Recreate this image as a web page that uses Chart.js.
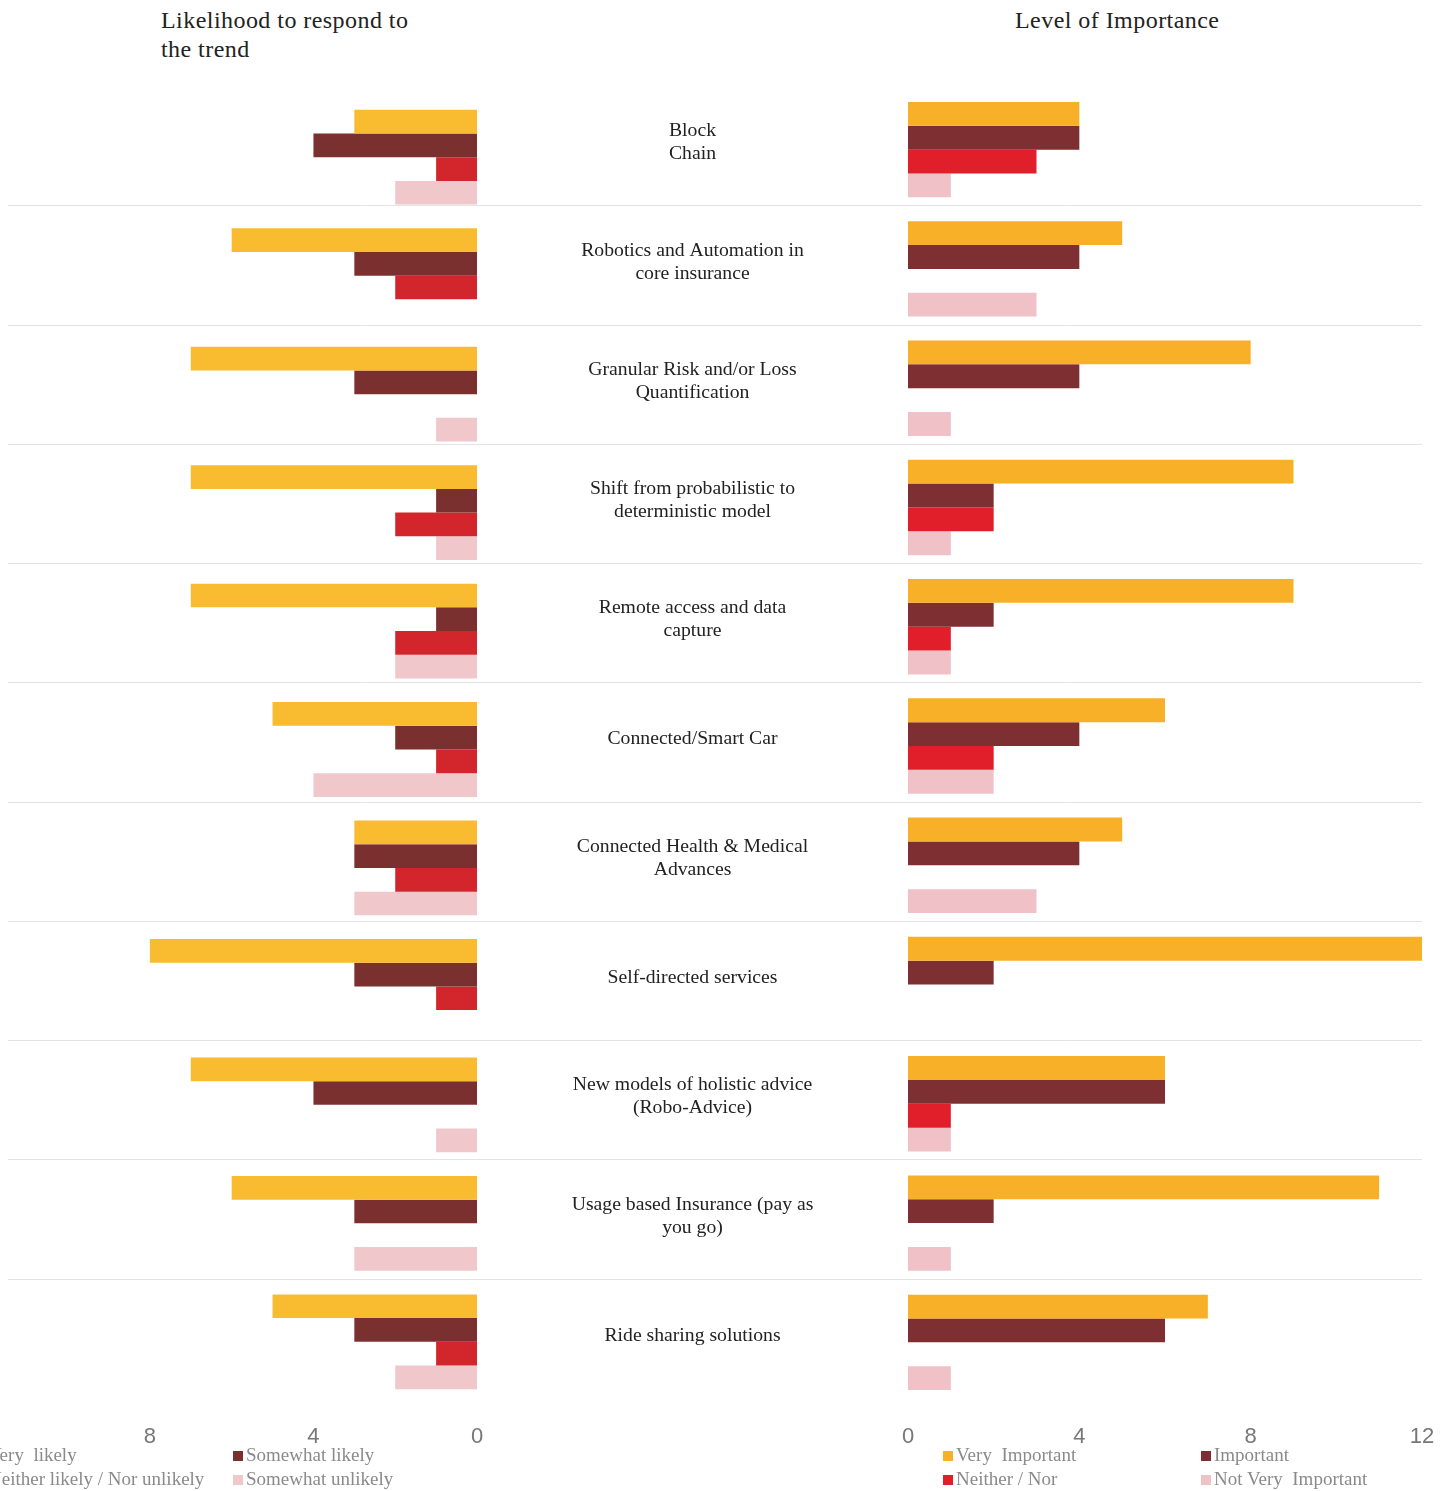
<!DOCTYPE html>
<html lang="en">
<head>
<meta charset="UTF-8">
<title>Trends: likelihood to respond and level of importance</title>
<script src="https://cdn.jsdelivr.net/npm/chart.js"></script>
<style>
  body { margin: 0; width: 1451px; height: 1491px; position: relative; overflow: hidden; background: #fff; font-family: "Liberation Serif", serif; }
  .titulo { position: absolute; font-size: 24px; letter-spacing: 0.45px; color: #222; line-height: 29px; }
  #wrapRight { position: absolute; left: 0; top: 0; width: 1451px; height: 1452px; }
  #wrapLeft { position: absolute; left: 0; top: 0; width: 490px; height: 1450px; }
  .legenda { position: absolute; font-size: 19px; color: #8a8a8a; white-space: pre; line-height: 24px; }
  .legenda i { display: inline-block; width: 10px; height: 10px; margin-right: 3px; }
</style>
</head>
<body>
  <div class="titulo" style="left:161px; top:6px;">Likelihood to respond to<br>the trend</div>
  <div class="titulo" style="left:1015px; top:6px;">Level of Importance</div>

  <div id="wrapRight"><canvas id="importanceChart"></canvas></div>
  <div id="wrapLeft"><canvas id="likelihoodChart"></canvas></div>

  <div id="legendLeft"></div>
  <div id="legendRight"></div>

<script>
  // categorias (linhas de texto de cada rótulo)
  const categorias = [
    ['Block', 'Chain'],
    ['Robotics and Automation in', 'core insurance'],
    ['Granular Risk and/or Loss', 'Quantification'],
    ['Shift from probabilistic to', 'deterministic model'],
    ['Remote access and data', 'capture'],
    ['Connected/Smart Car'],
    ['Connected Health & Medical', 'Advances'],
    ['Self-directed services'],
    ['New models of holistic advice', '(Robo-Advice)'],
    ['Usage based Insurance (pay as', 'you go)'],
    ['Ride sharing solutions']
  ];

  // Likelihood to respond to the trend
  const veryLikely       = [3, 6, 7, 7, 7, 5, 3, 8, 7, 6, 5];
  const somewhatLikely   = [4, 3, 3, 1, 1, 2, 3, 3, 4, 3, 3];
  const neitherLikely    = [1, 2, 0, 2, 2, 1, 2, 1, 0, 0, 1];
  const somewhatUnlikely = [2, 0, 1, 1, 2, 4, 3, 0, 1, 3, 2];

  // Level of importance
  const veryImportant    = [4, 5, 8, 9, 9, 6, 5, 12, 6, 11, 7];
  const important        = [4, 4, 4, 2, 2, 4, 4, 2, 6, 2, 6];
  const neitherNor       = [3, 0, 0, 2, 1, 2, 0, 0, 1, 0, 0];
  const notVeryImportant = [1, 3, 1, 1, 1, 2, 3, 0, 1, 1, 1];

  const ticksLeft = [0, 4, 8];
  const ticksRight = [0, 4, 8, 12];

  const coresLeft = ['#F9BB30', '#7B3030', '#D3262C', '#F0C8CB'];
  const coresRight = ['#F7B027', '#7D2F32', '#E11F2A', '#F0C2C8'];

  const labelsIdx = categorias.map(c => c.join(' '));
  const linhaCor = '#e3e3e3';
  const larguraMeio = 431;   // faixa central dos rotulos
  const deslocSep = -4;      // separadores um pouco acima do limite da categoria
  const deslocRotulo = -7;

  function dataset(label, data, cor) {
    return { label, data, backgroundColor: cor, borderWidth: 0, categoryPercentage: 0.8, barPercentage: 1.0 };
  }

  const fonteEixo = { family: '"Liberation Sans", Arial, sans-serif', size: 22 };

  // separadores (largura toda) e rotulos no meio
  const meioPlugin = {
    id: 'meioPlugin',
    beforeDatasetsDraw(chart) {
      const { ctx, chartArea, scales: { y } } = chart;
      ctx.save();
      ctx.strokeStyle = linhaCor;
      ctx.lineWidth = 1;
      for (let i = 1; i < categorias.length; i++) {
        const yy = Math.round((y.getPixelForValue(i - 1) + y.getPixelForValue(i)) / 2 + deslocSep) + 0.5;
        ctx.beginPath();
        ctx.moveTo(y.left, yy);
        ctx.lineTo(chartArea.right, yy);
        ctx.stroke();
      }
      ctx.restore();
    },
    afterDraw(chart) {
      const { ctx, scales: { y } } = chart;
      const cx = y.right - larguraMeio / 2;
      ctx.save();
      ctx.font = '19.7px "Liberation Serif", serif';
      ctx.fillStyle = '#222';
      ctx.textAlign = 'center';
      ctx.textBaseline = 'middle';
      categorias.forEach((linhas, i) => {
        const yc = y.getPixelForValue(i) + deslocRotulo;
        linhas.forEach((t, k) => ctx.fillText(t, cx, yc + (k - (linhas.length - 1) / 2) * 23));
      });
      ctx.restore();
    }
  };

  // grafico da direita (canvas na largura toda, eixo y ocupa a parte esquerda)
  new Chart(document.getElementById('importanceChart'), {
    type: 'bar',
    data: {
      labels: labelsIdx,
      datasets: [
        dataset('Very  Important', veryImportant, coresRight[0]),
        dataset('Important', important, coresRight[1]),
        dataset('Neither / Nor', neitherNor, coresRight[2]),
        dataset('Not Very  Important', notVeryImportant, coresRight[3])
      ]
    },
    options: {
      indexAxis: 'y',
      responsive: true,
      maintainAspectRatio: false,
      animation: false,
      layout: { padding: { left: 8, right: 29, top: 90, bottom: 0 } },
      plugins: { legend: { display: false }, tooltip: { enabled: false } },
      scales: {
        x: {
          min: 0,
          max: 12,
          afterBuildTicks: s => { s.ticks = ticksRight.map(v => ({ value: v })); },
          afterFit: s => { s.height = 50; s.paddingLeft = 0; s.paddingRight = 0; },
          grid: { display: false },
          border: { display: false },
          ticks: { color: '#777', font: fonteEixo, padding: 14 }
        },
        y: {
          afterFit: s => { s.width = 900; },
          grid: { display: false },
          border: { display: false },
          ticks: { display: false }
        }
      }
    },
    plugins: [meioPlugin]
  });

  // grafico da esquerda (eixo invertido)
  new Chart(document.getElementById('likelihoodChart'), {
    type: 'bar',
    data: {
      labels: labelsIdx,
      datasets: [
        dataset('Very  likely', veryLikely, coresLeft[0]),
        dataset('Somewhat likely', somewhatLikely, coresLeft[1]),
        dataset('Neither likely / Nor unlikely', neitherLikely, coresLeft[2]),
        dataset('Somewhat unlikely', somewhatUnlikely, coresLeft[3])
      ]
    },
    options: {
      indexAxis: 'y',
      responsive: true,
      maintainAspectRatio: false,
      animation: false,
      layout: { padding: { left: 8, right: 13, top: 98, bottom: 0 } },
      plugins: { legend: { display: false }, tooltip: { enabled: false } },
      scales: {
        x: {
          reverse: true,
          min: 0,
          max: 11.47,
          afterBuildTicks: s => { s.ticks = ticksLeft.map(v => ({ value: v })); },
          afterFit: s => { s.height = 49; },
          grid: { display: false },
          border: { display: false },
          ticks: { color: '#777', font: fonteEixo, padding: 15 }
        },
        y: { display: false }
      }
    }
  });

  // legendas
  function montarLegenda(id, itens, cores, x0) {
    const el = document.getElementById(id);
    itens.forEach((txt, i) => {
      const d = document.createElement('div');
      d.className = 'legenda';
      d.style.left = (x0 + (i % 2) * 258) + 'px';
      d.style.top = (1443 + Math.floor(i / 2) * 24) + 'px';
      d.innerHTML = `<i style="background:${cores[i]}"></i>${txt}`;
      el.appendChild(d);
    });
  }
  montarLegenda('legendLeft', ['Very  likely', 'Somewhat likely', 'Neither likely / Nor unlikely', 'Somewhat unlikely'], coresLeft, -25);
  montarLegenda('legendRight', ['Very  Important', 'Important', 'Neither / Nor', 'Not Very  Important'], coresRight, 943);
</script>
</body>
</html>
